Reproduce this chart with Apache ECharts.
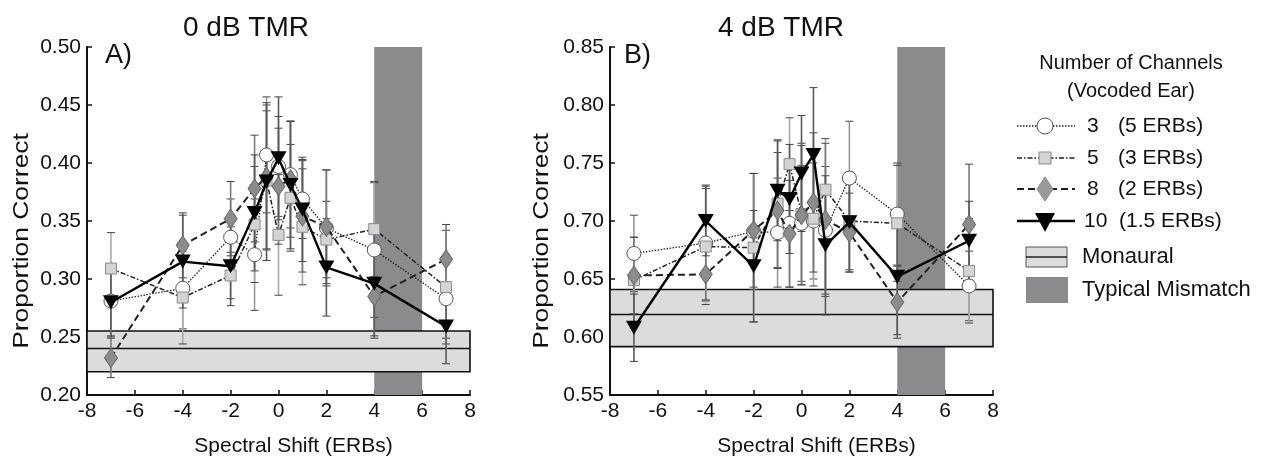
<!DOCTYPE html>
<html><head><meta charset="utf-8">
<script src="https://cdn.jsdelivr.net/npm/echarts@6/dist/echarts.min.js"></script>
<style>html,body{margin:0;padding:0;background:#fff}#c{width:1272px;height:456px}</style>
</head><body><div id="c"></div>
<script>
// ---- data ----
const shifts = [-7, -4, -2, -1, -0.5, 0, 0.5, 1, 2, 4, 7];
const xTickLabels = [-8, -6, -4, -2, 0, 2, 4, 6, 8];
const panelTitles = ['0 dB TMR', '4 dB TMR'];
const seriesNames = ['3 (5 ERBs)', '5 (3 ERBs)', '8 (2 ERBs)', '10 (1.5 ERBs)'];

// Panel A (0 dB TMR)
const A_ch3  = [0.281, 0.292, 0.336, 0.321, 0.407, 0.397, 0.390, 0.369, 0.344, 0.325, 0.283];
const A_ch5  = [0.309, 0.284, 0.303, 0.347, 0.385, 0.338, 0.370, 0.345, 0.334, 0.343, 0.293];
const A_ch8  = [0.232, 0.329, 0.352, 0.378, 0.388, 0.380, 0.386, 0.354, 0.345, 0.285, 0.317];
const A_ch10 = [0.280, 0.315, 0.311, 0.357, 0.384, 0.404, 0.381, 0.360, 0.310, 0.296, 0.259];
const A_err3  = [0.030, 0.035, 0.033, 0.048, 0.050, 0.043, 0.046, 0.034, 0.050, 0.058, 0.034];
const A_err5  = [0.031, 0.040, 0.020, 0.050, 0.060, 0.052, 0.046, 0.050, 0.033, 0.041, 0.049];
const A_err8  = [0.017, 0.028, 0.032, 0.046, 0.062, 0.050, 0.050, 0.048, 0.049, 0.036, 0.030];
const A_err10 = [0.030, 0.040, 0.034, 0.050, 0.068, 0.053, 0.055, 0.045, 0.042, 0.045, 0.032];
const A_monaural = [0.2201, 0.2366, 0.2552]; // low, mean, high

// Panel B (4 dB TMR)
const B_ch3  = [0.672, 0.681, 0.691, 0.690, 0.698, 0.698, 0.700, 0.692, 0.737, 0.706, 0.644];
const B_ch5  = [0.649, 0.678, 0.677, 0.715, 0.749, 0.706, 0.702, 0.727, 0.700, 0.698, 0.657];
const B_ch8  = [0.653, 0.654, 0.692, 0.709, 0.689, 0.705, 0.716, 0.701, 0.690, 0.630, 0.697];
const B_ch10 = [0.608, 0.700, 0.661, 0.726, 0.719, 0.741, 0.757, 0.679, 0.699, 0.652, 0.683];
const B_err3  = [0.033, 0.050, 0.050, 0.047, 0.055, 0.050, 0.050, 0.055, 0.049, 0.044, 0.030];
const B_err5  = [0.037, 0.050, 0.064, 0.055, 0.040, 0.061, 0.058, 0.044, 0.042, 0.050, 0.045];
const B_err8  = [0.033, 0.022, 0.049, 0.050, 0.046, 0.060, 0.060, 0.066, 0.034, 0.031, 0.052];
const B_err10 = [0.029, 0.030, 0.048, 0.043, 0.047, 0.050, 0.058, 0.060, 0.043, 0.050, 0.034];
const B_monaural = [0.5917, 0.6161, 0.641];

const mismatchRange = [4, 6];

// ---- styles ----
const FONT = 'Liberation Sans, Arial, Helvetica, sans-serif';
const styles = [
  { symbol: 'circle', symbolSize: 14, item: { color: '#fff', borderColor: '#555', borderWidth: 1 }, line: { color: '#222', width: 1.3, type: [1.5, 1.5] }, err: '#9a9a9a' },
  { symbol: 'rect', symbolSize: 11, item: { color: '#d4d4d4', borderColor: '#8a8a8a', borderWidth: 1 }, line: { color: '#222', width: 1.5, type: [5, 2, 1.5, 2] }, err: '#a8a8a8' },
  { symbol: 'diamond', symbolSize: [13, 19], item: { color: '#8c8c8c', borderColor: '#6a6a6a', borderWidth: 1 }, line: { color: '#222', width: 2, type: [7, 4] }, err: '#7a7a7a' },
  { symbol: 'path://M0,0L10,0L5,9Z', symbolSize: [16, 14], item: { color: '#000', borderColor: '#000', borderWidth: 0 }, line: { color: '#000', width: 2.4, type: 'solid' }, err: '#5a5a5a' }
];

function errSeries(ai, vals, errs, color, z) {
  return {
    type: 'custom', xAxisIndex: ai, yAxisIndex: ai, z: z, silent: true,
    data: shifts.map((s, i) => [s, vals[i] - errs[i], vals[i] + errs[i]]),
    encode: { x: 0, y: [1, 2] },
    renderItem: function (params, api) {
      const x = api.value(0);
      const lo = api.coord([x, api.value(1)]);
      const hi = api.coord([x, api.value(2)]);
      const w = 4;
      return {
        type: 'group', children: [
          { type: 'line', shape: { x1: lo[0], y1: lo[1], x2: hi[0], y2: hi[1] }, style: { stroke: color, lineWidth: 1.6 } },
          { type: 'line', shape: { x1: lo[0] - w, y1: lo[1], x2: lo[0] + w, y2: lo[1] }, style: { stroke: '#444', lineWidth: 1 } },
          { type: 'line', shape: { x1: hi[0] - w, y1: hi[1], x2: hi[0] + w, y2: hi[1] }, style: { stroke: '#444', lineWidth: 1 } }
        ]
      };
    }
  };
}
function lineSeries(ai, vals, k) {
  const st = styles[k];
  return {
    type: 'line', name: seriesNames[k], xAxisIndex: ai, yAxisIndex: ai, z: 10 + k,
    data: shifts.map((s, i) => [s, vals[i]]),
    symbol: st.symbol, symbolSize: st.symbolSize, showAllSymbol: true,
    itemStyle: st.item, lineStyle: st.line, silent: true
  };
}
function bgSeries(ai, mon) {
  return [
    { type: 'line', xAxisIndex: ai, yAxisIndex: ai, data: [], z: 1, silent: true,
      markArea: { silent: true, itemStyle: { color: '#8b8b8e' },
        data: [[{ xAxis: mismatchRange[0] }, { xAxis: mismatchRange[1] }]] } },
    { type: 'line', xAxisIndex: ai, yAxisIndex: ai, data: [], z: 2, silent: true,
      markArea: { silent: true, itemStyle: { color: '#dcdcdd', borderColor: '#111', borderWidth: 1.6 },
        data: [[{ xAxis: -8, yAxis: mon[0] }, { xAxis: 8, yAxis: mon[2] }]] },
      markLine: { silent: true, symbol: 'none', label: { show: false },
        lineStyle: { color: '#111', width: 1.3, type: 'solid' },
        data: [{ yAxis: mon[1] }] } }
  ];
}

const panelData = [
  { vals: [A_ch3, A_ch5, A_ch8, A_ch10], errs: [A_err3, A_err5, A_err8, A_err10], mon: A_monaural, ymin: 0.20, ymax: 0.50 },
  { vals: [B_ch3, B_ch5, B_ch8, B_ch10], errs: [B_err3, B_err5, B_err8, B_err10], mon: B_monaural, ymin: 0.55, ymax: 0.85 }
];

const grids = [
  { left: 87, top: 47, width: 383, height: 348, containLabel: false, outerBoundsMode: 'none' },
  { left: 610, top: 47, width: 383, height: 348, containLabel: false, outerBoundsMode: 'none' }
];
const xAxes = grids.map((g, i) => ({
  type: 'value', gridIndex: i, min: xTickLabels[0], max: xTickLabels[xTickLabels.length - 1], interval: 2,
  axisLine: { onZero: false, lineStyle: { color: '#111', width: 2 } },
  axisTick: { inside: true, length: 5, lineStyle: { color: '#111', width: 1.5 } },
  axisLabel: { color: '#111', fontSize: 21, fontFamily: FONT, margin: 6 },
  splitLine: { show: false },
  name: 'Spectral Shift (ERBs)', nameLocation: 'middle', nameGap: 41,
  nameTextStyle: { color: '#111', fontSize: 21, fontFamily: FONT, padding: [0, 0, 0, 30] }
}));
const yAxes = panelData.map((p, i) => ({
  type: 'value', gridIndex: i, min: p.ymin, max: p.ymax, interval: 0.05,
  axisLine: { show: true, onZero: false, lineStyle: { color: '#111', width: 2 } },
  axisTick: { show: true, inside: true, length: 5, lineStyle: { color: '#111', width: 1.5 } },
  axisLabel: { color: '#111', fontSize: 21, fontFamily: FONT, margin: 6, formatter: v => v.toFixed(2) },
  splitLine: { show: false }
}));

const series = [];
panelData.forEach((p, ai) => {
  bgSeries(ai, p.mon).forEach(s => series.push(s));
  for (let k = 0; k < 4; k++) series.push(errSeries(ai, p.vals[k], p.errs[k], styles[k].err, 5 + k));
  for (let k = 0; k < 4; k++) series.push(lineSeries(ai, p.vals[k], k));
});

// ---- legend & labels drawn as graphic text/shapes ----
const tx = (x, y, text, size, align, extra) => Object.assign({
  type: 'text', x: x, y: y, silent: true,
  style: { text: text, fontSize: size, fontFamily: FONT, fill: '#111', align: align || 'left', verticalAlign: 'middle' }
}, extra || {});

const graphic = [
  tx(246, 28, panelTitles[0], 28, 'center'),
  tx(781, 28, panelTitles[1], 28, 'center'),
  tx(105, 56, 'A)', 27, 'left'),
  tx(624, 56, 'B)', 27, 'left'),
  tx(22, 241, 'Proportion Correct', 22, 'center', { rotation: Math.PI / 2, scaleX: 1.2 }),
  tx(542, 241, 'Proportion Correct', 22, 'center', { rotation: Math.PI / 2, scaleX: 1.2 }),
  tx(1131, 63, 'Number of Channels', 20, 'center'),
  tx(1131, 91, '(Vocoded Ear)', 20, 'center')
];
const rowsY = [126, 158, 189, 221];
const legNums = ['3', '5', '8', '10'];
const legParens = ['(5 ERBs)', '(3 ERBs)', '(2 ERBs)', '(1.5 ERBs)'];
rowsY.forEach((y, k) => {
  const st = styles[k];
  graphic.push({ type: 'line', silent: true, shape: { x1: 1017, y1: y, x2: 1075, y2: y },
    style: { stroke: st.line.color, lineWidth: st.line.width, lineDash: st.line.type === 'solid' ? null : st.line.type } });
  const cx = 1045;
  if (k === 0) graphic.push({ type: 'circle', silent: true, shape: { cx: cx, cy: y, r: 8 }, style: { fill: '#fff', stroke: '#555', lineWidth: 1 } });
  if (k === 1) graphic.push({ type: 'rect', silent: true, shape: { x: cx - 6, y: y - 6, width: 12, height: 12 }, style: { fill: '#d4d4d4', stroke: '#8a8a8a', lineWidth: 1 } });
  if (k === 2) graphic.push({ type: 'polygon', silent: true, shape: { points: [[cx, y - 12], [cx + 8, y], [cx, y + 12], [cx - 8, y]] }, style: { fill: '#9a9a9a', stroke: '#8a8a8a', lineWidth: 1 } });
  if (k === 3) graphic.push({ type: 'polygon', silent: true, shape: { points: [[cx - 10, y - 8], [cx + 10, y - 8], [cx, y + 11]] }, style: { fill: '#000' } });
  graphic.push(tx(k === 3 ? 1084 : 1087, y, legNums[k], 21, 'left'));
  graphic.push(tx(k === 3 ? 1119 : 1118, y, legParens[k], 21, 'left'));
});
graphic.push({ type: 'rect', silent: true, shape: { x: 1026, y: 247, width: 41, height: 20 }, style: { fill: '#dcdcdd', stroke: '#555', lineWidth: 1 } });
graphic.push({ type: 'line', silent: true, shape: { x1: 1026, y1: 257, x2: 1067, y2: 257 }, style: { stroke: '#222', lineWidth: 1.3 } });
graphic.push(tx(1082, 257, 'Monaural', 22, 'left'));
graphic.push({ type: 'rect', silent: true, shape: { x: 1026, y: 277, width: 42, height: 26 }, style: { fill: '#8b8b8e' } });
graphic.push(tx(1082, 290, 'Typical Mismatch', 22, 'left'));

const chart = echarts.init(document.getElementById('c'), null, { renderer: 'canvas' });
chart.setOption({
  animation: false,
  backgroundColor: '#fff',
  grid: grids,
  xAxis: xAxes,
  yAxis: yAxes,
  series: series,
  graphic: graphic
});
</script>
</body></html>
